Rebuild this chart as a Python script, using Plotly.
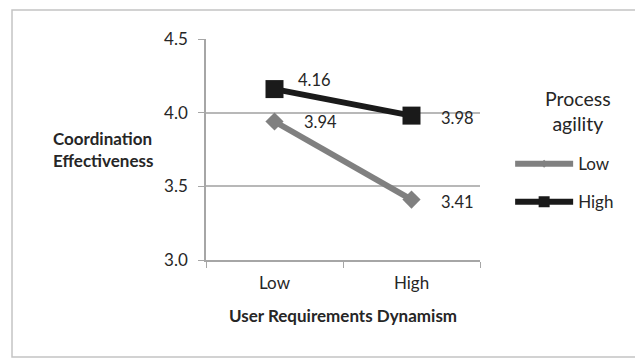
import plotly.graph_objects as go

categories = ["Low", "High"]
low_agility = [3.94, 3.41]
high_agility = [4.16, 3.98]
series_names = ["Low", "High"]
y_ticks = [3.0, 3.5, 4.0, 4.5]

FONT = "Lato"
TXT = "#262626"
COLORS = ["#808080", "#1a1a1a"]

fig = go.Figure()
fig.add_trace(go.Scatter(
    x=categories, y=low_agility, name=series_names[0], mode="lines+markers",
    line=dict(color=COLORS[0], width=6),
    marker=dict(symbol="diamond", size=14, color=COLORS[0]),
    showlegend=False,
))
fig.add_trace(go.Scatter(
    x=categories, y=high_agility, name=series_names[1], mode="lines+markers",
    line=dict(color=COLORS[1], width=6),
    marker=dict(symbol="square", size=18, color=COLORS[1]),
    showlegend=False,
))
# legend entries (smaller markers, as in the reference legend)
fig.add_trace(go.Scatter(
    x=[None], y=[None], name=series_names[0], mode="lines+markers",
    line=dict(color=COLORS[0], width=6),
    marker=dict(symbol="diamond", size=6, color=COLORS[0]),
    legendgroup="a",
))
fig.add_trace(go.Scatter(
    x=[None], y=[None], name=series_names[1], mode="lines+markers",
    line=dict(color=COLORS[1], width=6),
    marker=dict(symbol="square", size=11, color=COLORS[1]),
    legendgroup="b",
))

# data labels
offsets = {"Low": [(27, 0), (27, -2)], "High": [(21, 9), (27, -2)]}
for vals, key in [(low_agility, "Low"), (high_agility, "High")]:
    for i, (c, v) in enumerate(zip(categories, vals)):
        dx, dy = offsets[key][i]
        fig.add_annotation(x=c, y=v, text=f"{v:.2f}", showarrow=False,
                           xanchor="left", yanchor="middle", xshift=dx, yshift=dy,
                           font=dict(family=FONT, size=16.5, color=TXT))

# y-axis title (horizontal)
fig.add_annotation(xref="paper", yref="paper", x=-0.566, y=0.5,
                   text="<b>Coordination<br>Effectiveness</b>", showarrow=False,
                   xanchor="left", yanchor="middle", align="left",
                   font=dict(family=FONT, size=17, color=TXT))

# x-axis title
fig.add_annotation(xref="paper", yref="paper", x=0.5, y=-0.249,
                   text="<b>User Requirements Dynamism</b>", showarrow=False,
                   xanchor="center", yanchor="middle",
                   font=dict(family=FONT, size=17, color=TXT))

# legend title
fig.add_annotation(xref="paper", yref="paper", x=1.358, y=0.672,
                   text="Process<br>agility", showarrow=False,
                   xanchor="center", yanchor="middle", align="center",
                   font=dict(family=FONT, size=19.5, color=TXT))

# outer border
fig.add_shape(type="rect", xref="paper", yref="paper",
              x0=-0.708, x1=1.584, y0=-0.439, y1=1.131,
              line=dict(color="#c4c4c4", width=1.5))

fig.update_layout(
    width=635, height=351,
    margin=dict(l=198, r=163, t=31, b=99),
    paper_bgcolor="white", plot_bgcolor="white",
    font=dict(family=FONT, size=17, color=TXT),
    showlegend=True,
    legend=dict(
        x=1.11, y=0.515, xanchor="left", yanchor="top",
        font=dict(family=FONT, size=17, color=TXT),
        itemwidth=58, tracegroupgap=13, traceorder="grouped",
        bgcolor="rgba(0,0,0,0)",
    ),
    xaxis=dict(
        type="category", range=[-0.5, 1.5], tickson="boundaries",
        ticks="outside", ticklen=6, tickcolor="#a6a6a6",
        showline=True, linecolor="#a6a6a6", linewidth=1.5,
        showgrid=False, ticklabelstandoff=7,
        tickfont=dict(family=FONT, size=17, color=TXT),
    ),
    yaxis=dict(
        range=[3.0, 4.5], tickvals=y_ticks, tickformat=".1f",
        ticks="outside", ticklen=6, tickcolor="#a6a6a6",
        showline=True, linecolor="#a6a6a6", linewidth=1.5,
        showgrid=True, gridcolor="#b8b8b8", gridwidth=1.5,
        zeroline=False, ticklabelstandoff=7,
        tickfont=dict(family=FONT, size=17, color=TXT),
    ),
)

fig.write_html("out.html")
